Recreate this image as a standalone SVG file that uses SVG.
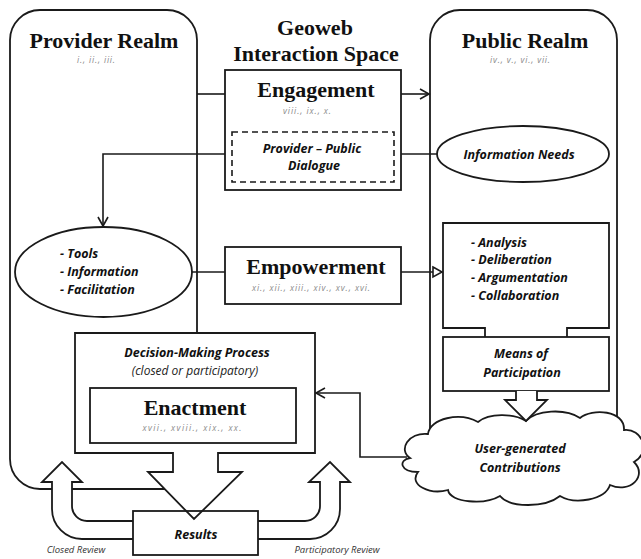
<svg xmlns="http://www.w3.org/2000/svg" width="641" height="559" viewBox="0 0 641 559">
<style>
.shape{fill:#fff;stroke:#1a1a1a;stroke-width:1.8}
.frame{fill:none;stroke:#1a1a1a;stroke-width:1.8}
.conn{fill:none;stroke:#1a1a1a;stroke-width:1.6}
.dash{fill:#fff;stroke:#1a1a1a;stroke-width:1.6;stroke-dasharray:6 4}
.title{font-family:"Liberation Serif","DejaVu Serif",serif;font-weight:bold;font-size:22px;fill:#111;text-anchor:middle}
.lbl{font-family:"Open Sans",Lato,sans-serif;font-style:italic;font-weight:bold;font-size:12.5px;fill:#111;text-anchor:middle}
.lst{font-family:"Open Sans",Lato,sans-serif;font-style:italic;font-weight:bold;font-size:12.5px;fill:#111}
.plain{font-family:"Open Sans",Lato,sans-serif;font-style:italic;font-size:12px;fill:#222;text-anchor:middle}
.sub{font-family:"Open Sans",Lato,sans-serif;font-style:italic;font-size:8.5px;fill:#8a8a8a;text-anchor:middle}
.cap{font-family:"Open Sans",Lato,sans-serif;font-style:italic;font-size:9.5px;fill:#333;text-anchor:middle}
</style>
<defs>
<marker id="chev" markerUnits="userSpaceOnUse" markerWidth="14" markerHeight="14" refX="9" refY="5" orient="auto" overflow="visible">
<path d="M0,0 L9,5 L0,10" fill="none" stroke="#1a1a1a" stroke-width="1.6"/>
</marker>
<marker id="tri" markerUnits="userSpaceOnUse" markerWidth="14" markerHeight="14" refX="9" refY="5" orient="auto" overflow="visible">
<path d="M0,0 L9,5 L0,10 Z" fill="#fff" stroke="#1a1a1a" stroke-width="1.6"/>
</marker>
</defs>
<rect width="641" height="559" fill="#fff"/>

<g id="provider-realm">
<rect class="frame" x="10" y="10" width="187" height="479" rx="30"/>
<text class="title" x="104" y="48">Provider Realm</text>
<text class="sub" x="96" y="63" textLength="38" lengthAdjust="spacing">i., ii., iii.</text>
</g>

<g id="public-realm">
<rect class="frame" x="430" y="10" width="187" height="470" rx="30"/>
<text class="title" x="525" y="48">Public Realm</text>
<text class="sub" x="520" y="63" textLength="60" lengthAdjust="spacing">iv., v., vi., vii.</text>
</g>

<g id="geoweb-label">
<text class="title" x="315" y="35">Geoweb</text>
<text class="title" x="316" y="61">Interaction Space</text>
</g>

<g id="connectors">
<line class="conn" x1="197" y1="94" x2="225" y2="94"/>
<line class="conn" x1="401" y1="94" x2="429" y2="94" marker-end="url(#chev)"/>
<path class="conn" d="M225,154 H103 V226" marker-end="url(#chev)"/>
<line class="conn" x1="401" y1="154" x2="437" y2="154"/>
<line class="conn" x1="192" y1="272" x2="225" y2="272"/>
<line class="conn" x1="401" y1="272" x2="442" y2="272" marker-end="url(#tri)"/>
<path class="conn" d="M407,457 H360 V393 H316" marker-end="url(#chev)"/>
</g>

<g id="engagement">
<rect class="shape" x="225" y="70" width="176" height="120"/>
<text class="title" x="316" y="97">Engagement</text>
<text class="sub" x="307" y="114" textLength="48" lengthAdjust="spacing">viii., ix., x.</text>
</g>

<g id="dialogue">
<rect class="dash" x="232" y="132" width="162" height="50"/>
<text class="lbl" x="312" y="153">Provider – Public</text>
<text class="lbl" x="314" y="170">Dialogue</text>
</g>

<g id="information-needs">
<ellipse class="shape" cx="523" cy="154" rx="86" ry="28"/>
<text class="lbl" x="519" y="159">Information Needs</text>
</g>

<g id="tools">
<ellipse class="shape" cx="103.5" cy="272" rx="88.5" ry="45"/>
<text class="lst" x="60" y="258">- Tools</text>
<text class="lst" x="60" y="276">- Information</text>
<text class="lst" x="60" y="294">- Facilitation</text>
</g>

<g id="empowerment">
<rect class="shape" x="225" y="247" width="176" height="57"/>
<text class="title" x="316" y="274">Empowerment</text>
<text class="sub" x="311" y="291" textLength="118" lengthAdjust="spacing">xi., xii., xiii., xiv., xv., xvi.</text>
</g>

<g id="activities">
<path class="shape" d="M485,337 V328 H443 V223 H609 V328 H567 V337"/>
<text class="lst" x="471" y="247">- Analysis</text>
<text class="lst" x="471" y="264">- Deliberation</text>
<text class="lst" x="471" y="282">- Argumentation</text>
<text class="lst" x="471" y="300">- Collaboration</text>
</g>

<g id="user-contributions">
<path class="shape" d="M410,458 C398,450 408,432 428,434 C430,418 460,412 478,422 C490,412 515,414 526,421 C536,410 565,408 580,418 C592,408 625,410 624,430 C642,428 652,452 634,462 C648,476 630,494 610,485 C605,500 575,505 560,496 C545,508 510,508 500,496 C485,505 450,503 448,490 C430,495 408,485 418,472 C400,472 398,460 410,458 Z"/>
<text class="lbl" x="520" y="453">User-generated</text>
<text class="lbl" x="520" y="472">Contributions</text>
</g>

<g id="means-of-participation">
<rect class="shape" x="443" y="337" width="166" height="54"/>
<path class="shape" d="M516,391 V400 H505 L526,421 L547,400 H537 V391"/>
<text class="lbl" x="521" y="358">Means of</text>
<text class="lbl" x="522" y="377">Participation</text>
</g>

<g id="closed-review">
<path class="shape" d="M133,539 H82 A30,30 0 0 1 52,509 V482 H42 L62,462 L82,482 H72 V506 A15,15 0 0 0 87,521 H133"/>
<text class="cap" x="76" y="553">Closed Review</text>
</g>

<g id="participatory-review">
<path class="shape" d="M258,539 H310 A30,30 0 0 0 340,509 V482 H350 L330,462 L309,482 H320 V506 A15,15 0 0 1 305,521 H258"/>
<text class="cap" x="337" y="553">Participatory Review</text>
</g>

<g id="decision-making">
<path class="shape" d="M75,333 H315 V453 H218 V472 H242 L194,519 L148,472 H173 V453 H75 Z"/>
<text class="lbl" x="197" y="357">Decision-Making Process</text>
<text class="plain" x="195" y="375">(closed or participatory)</text>
</g>

<g id="enactment">
<rect class="shape" x="90" y="388" width="206" height="55"/>
<text class="title" x="195" y="415">Enactment</text>
<text class="sub" x="192" y="431" textLength="99" lengthAdjust="spacing">xvii., xviii., xix., xx.</text>
</g>

<g id="results">
<rect class="frame" x="133" y="511" width="125" height="44"/>
<text class="lbl" x="196" y="539">Results</text>
</g>
</svg>
